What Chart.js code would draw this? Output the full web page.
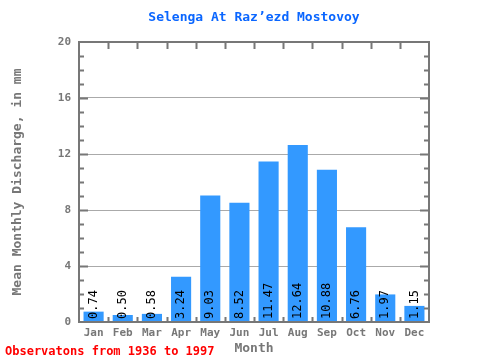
<!DOCTYPE html>
<html>
<head>
<meta charset="utf-8">
<script src="https://cdn.jsdelivr.net/npm/chart.js@4"></script>
<style>
  html, body { margin: 0; padding: 0; background: #fff; }
  #wrap { width: 480px; height: 360px; }
</style>
</head>
<body>
<div id="wrap"><canvas id="chart" width="480" height="360"></canvas></div>
<script>
const months = ['Jan', 'Feb', 'Mar', 'Apr', 'May', 'Jun', 'Jul', 'Aug', 'Sep', 'Oct', 'Nov', 'Dec'];
const discharge = [0.74, 0.50, 0.58, 3.24, 9.03, 8.52, 11.47, 12.64, 10.88, 6.76, 1.97, 1.15];
const yTicks = [0, 4, 8, 12, 16, 20];

const MONO = '"DejaVu Sans Mono", "Liberation Mono", monospace';
const AXIS_GRAY = '#777777';

// frame around the plot plus the little tick marks
const framePlugin = {
    id: 'frame',
    afterDatasetsDraw(chart) {
        const { ctx, chartArea: a, scales } = chart;
        const y = scales.y;
        ctx.save();
        ctx.strokeStyle = AXIS_GRAY;
        ctx.lineWidth = 2;
        ctx.strokeRect(a.left, a.top, a.right - a.left, a.bottom - a.top);

        // category boundaries, top and bottom
        const step = (a.right - a.left) / months.length;
        ctx.beginPath();
        for (let i = 1; i < months.length; i++) {
            const px = Math.round(a.left + i * step) + 0.5;
            ctx.moveTo(px, a.top); ctx.lineTo(px, a.top + 7);
            ctx.moveTo(px, a.bottom); ctx.lineTo(px, a.bottom - 5);
        }
        // minor ticks left and right every unit
        for (let v = 1; v < 20; v++) {
            const py = Math.round(y.getPixelForValue(v)) + 0.5;
            const len = v % 4 === 0 ? 9 : 5;
            ctx.moveTo(a.left, py); ctx.lineTo(a.left + len, py);
            ctx.moveTo(a.right, py); ctx.lineTo(a.right - len, py);
        }
        ctx.stroke();
        ctx.restore();
    }
};

// values written upward inside each bar
const valueLabels = {
    id: 'valueLabels',
    afterDatasetsDraw(chart) {
        const { ctx, chartArea: a } = chart;
        const meta = chart.getDatasetMeta(0);
        ctx.save();
        ctx.fillStyle = '#000';
        ctx.font = '12px ' + MONO;
        ctx.textAlign = 'left';
        ctx.textBaseline = 'middle';
        meta.data.forEach((bar, i) => {
            ctx.save();
            ctx.translate(bar.x, a.bottom - 3);
            ctx.rotate(-Math.PI / 2);
            ctx.fillText(discharge[i].toFixed(2), 0, 0);
            ctx.restore();
        });
        ctx.restore();
    }
};

// title centred over the plot, note in the bottom-left corner
const texts = {
    id: 'texts',
    afterDraw(chart) {
        const { ctx, chartArea: a } = chart;
        ctx.save();
        ctx.textBaseline = 'middle';
        ctx.fillStyle = '#0a66ff';
        ctx.font = 'bold 13px ' + MONO;
        ctx.textAlign = 'center';
        ctx.fillText('Selenga At Raz\u2019ezd Mostovoy', (a.left + a.right) / 2, 18);

        ctx.fillStyle = '#ff0000';
        ctx.font = 'bold 12px ' + MONO;
        ctx.textAlign = 'left';
        ctx.fillText('Observatons from 1936 to 1997', 5, 352);
        ctx.restore();
    }
};

new Chart(document.getElementById('chart').getContext('2d'), {
    type: 'bar',
    data: {
        labels: months,
        datasets: [{
            data: discharge,
            backgroundColor: '#3399ff',
            borderWidth: 0,
            barPercentage: 0.69,
            categoryPercentage: 1.0
        }]
    },
    options: {
        responsive: false,
        animation: false,
        layout: { padding: { left: 0, right: 51, top: 42, bottom: 0 } },
        plugins: {
            legend: { display: false },
            tooltip: { enabled: false },
            title: { display: false }
        },
        scales: {
            x: {
                grid: { display: false, drawTicks: false },
                border: { display: false },
                ticks: {
                    color: AXIS_GRAY,
                    font: { family: MONO, size: 11, weight: 'bold' },
                    padding: 5,
                    maxRotation: 0
                },
                title: {
                    display: true,
                    text: 'Month',
                    color: AXIS_GRAY,
                    font: { family: MONO, size: 13, weight: 'bold' },
                    padding: { top: 0, bottom: 4 }
                },
                afterFit(scale) { scale.height = 38; }
            },
            y: {
                min: 0,
                max: 20,
                afterBuildTicks(scale) { scale.ticks = yTicks.map(v => ({ value: v })); },
                grid: { color: '#aaaaaa', lineWidth: 1, drawTicks: false },
                border: { display: false },
                ticks: {
                    color: AXIS_GRAY,
                    font: { family: MONO, size: 11, weight: 'bold' },
                    padding: 8
                },
                title: {
                    display: true,
                    text: 'Mean Monthly Discharge, in mm',
                    color: AXIS_GRAY,
                    font: { family: MONO, size: 13, weight: 'bold' },
                    padding: { top: 10, bottom: 0 }
                },
                afterFit(scale) { scale.width = 79; }
            }
        }
    },
    plugins: [framePlugin, valueLabels, texts]
});
</script>
</body>
</html>
